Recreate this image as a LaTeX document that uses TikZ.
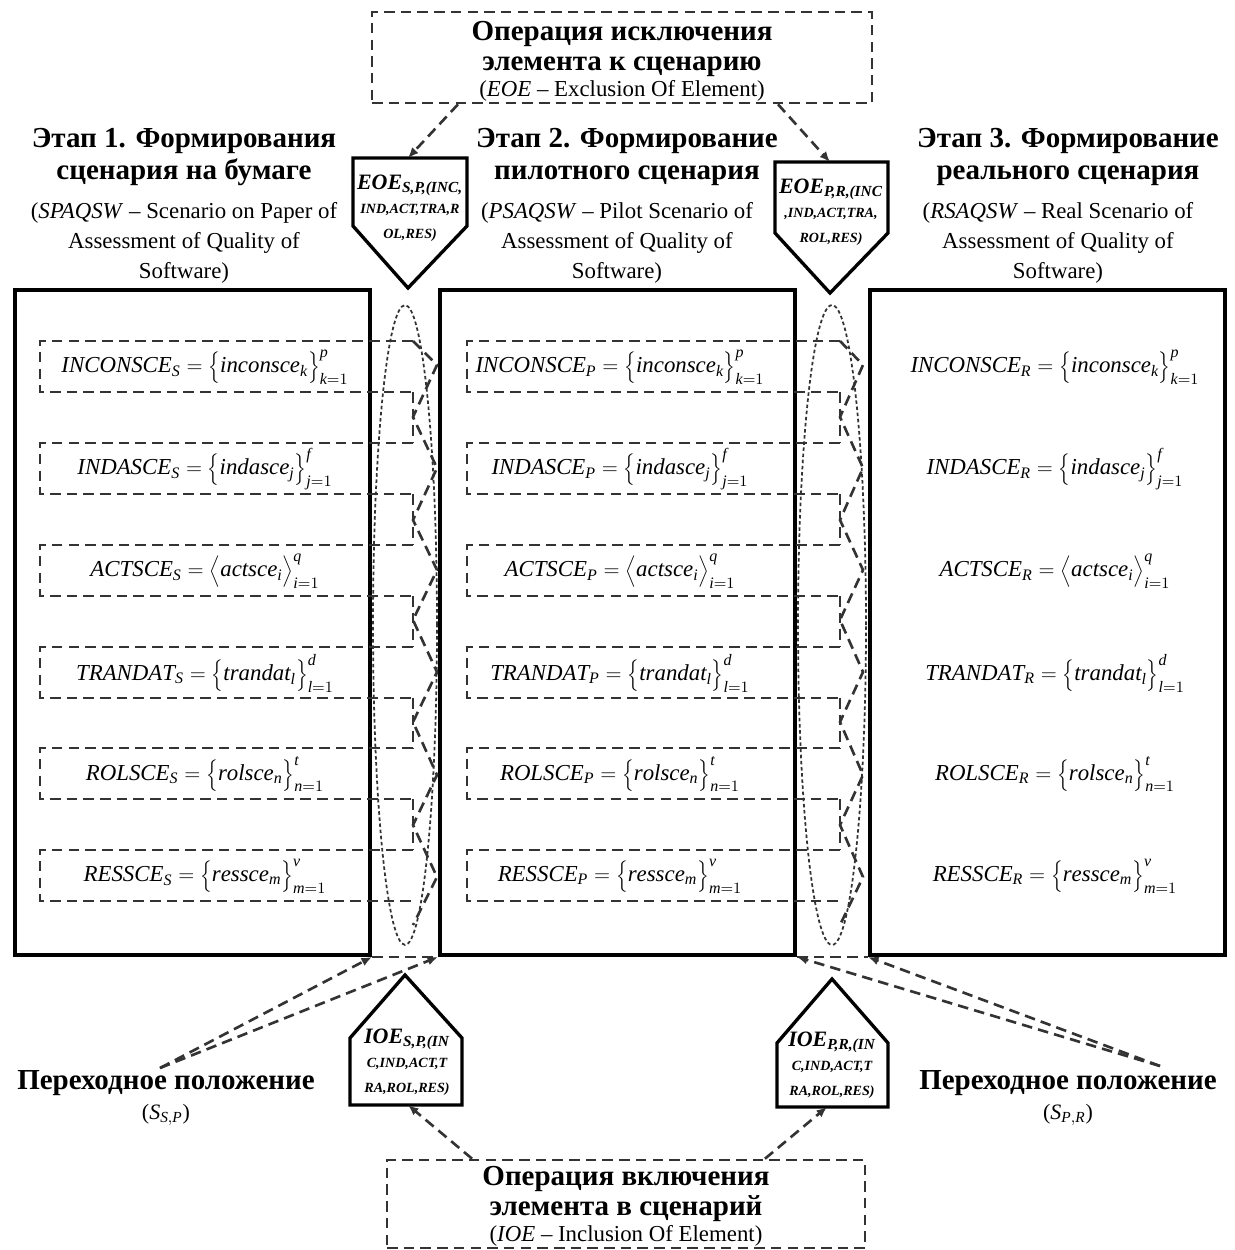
\documentclass[tikz,border=0pt]{standalone}
\usepackage{fontspec}
\setmainfont{Liberation Serif}
\usetikzlibrary{positioning,arrows.meta}
\newcommand{\scset}[5]{$\mathit{#1}_{\mathit{#2}}=\Big\{\mathit{#3}_{\mathit{#4}}\Big\}_{\mathit{#4}=1}^{\mathit{#5}}$}
\newcommand{\scseq}[5]{$\mathit{#1}_{\mathit{#2}}=\Big\langle\mathit{#3}_{\mathit{#4}}\Big\rangle_{\mathit{#4}=1}^{\mathit{#5}}$}

\begin{document}
\begin{tikzpicture}[
	x=0.02cm, y=-0.02cm,
	bigbox/.style={draw, line width=2.3pt, minimum width=7.1cm, minimum height=13.3cm, inner sep=0pt},
	stagehead/.style={align=center, font=\fontsize{16.5}{18.7}\selectfont\bfseries},
	stagesub/.style={align=center, font=\fontsize{13}{17}\selectfont},
	formula/.style={font=\fontsize{13}{15}\selectfont, inner sep=0pt},
	opbox/.style={draw=black!80, line width=1.5pt, dash pattern=on 6pt off 3.5pt, minimum width=10cm, minimum height=1.82cm, align=center, inner sep=0pt, font=\fontsize{16.5}{17}\selectfont\bfseries},
	dline/.style={draw=black!80, line width=1.5pt, dash pattern=on 6pt off 3.5pt},
	darrow/.style={dline, -{Latex[length=6pt, width=5pt]}},
	oval/.style={draw=black!80, line width=1pt, dash pattern=on 2pt off 1.5pt},
	house/.style={draw, line width=1.9pt, line join=miter},
	housetext/.style={align=center, font=\fontsize{8}{10}\selectfont\bfseries\itshape, inner sep=0pt},
	transit/.style={align=center, font=\fontsize{16.5}{17}\selectfont\bfseries}
]
\useasboundingbox (0,0) rectangle (1234,1250);
\node[bigbox] (st1) at (192.5,622.5) {};
\node[bigbox] (st2) at (617.5,622.5) {};
\node[bigbox] (st3) at (1047.5,622.5) {};
\node[stagehead] (head1) at (184,157) {Этап 1. Формирования\\сценария на бумаге};
\node[stagehead] (head2) at (627,157) {Этап 2. Формирование\\пилотного сценария};
\node[stagehead] (head3) at (1068,157) {Этап 3. Формирование\\реального сценария};
\node[stagesub] (sub1) at (184,243) {(\textit{SPAQSW} – Scenario on Paper of\\Assessment of Quality of\\Software)};
\node[stagesub] (sub2) at (617,243) {(\textit{PSAQSW} – Pilot Scenario of\\Assessment of Quality of\\Software)};
\node[stagesub] (sub3) at (1058,243) {(\textit{RSAQSW} – Real Scenario of\\Assessment of Quality of\\Software)};
\foreach \t in {341,443,545,647,748,850} {
	\draw[dline] (413,\t) -| (40,\t+51) -- (413,\t+51);
	\draw[dline] (840,\t) -| (467,\t+51) -- (840,\t+51);
}
\foreach \t in {392,494,596,698,799} {
	\draw[dline] (413,\t) -- (413,\t+51);
	\draw[dline] (840,\t) -- (840,\t+51);
}
\draw[dline] (413,341) -- (437,365) -- (413,417) -- (437,468) -- (413,520) -- (437,570) -- (413,620) -- (437,672) -- (413,722) -- (437,775) -- (413,825) -- (437,877) -- (413,925);
\draw[dline] (840,341) -- (863,365) -- (840,417) -- (863,468) -- (840,520) -- (863,570) -- (840,620) -- (863,672) -- (840,722) -- (863,775) -- (840,825) -- (863,877) -- (840,925);
\node[formula] (inc1) at (205,367) {\scset{INCONSCE}{S}{inconsce}{k}{p}};
\node[formula] (ind1) at (205,469) {\scset{INDASCE}{S}{indasce}{j}{f}};
\node[formula] (act1) at (205,571) {\scseq{ACTSCE}{S}{actsce}{i}{q}};
\node[formula] (tra1) at (205,673) {\scset{TRANDAT}{S}{trandat}{l}{d}};
\node[formula] (rol1) at (205,774) {\scset{ROLSCE}{S}{rolsce}{n}{t}};
\node[formula] (res1) at (205,876) {\scset{RESSCE}{S}{ressce}{m}{v}};
\node[formula] (inc2) at (620,367) {\scset{INCONSCE}{P}{inconsce}{k}{p}};
\node[formula] (ind2) at (620,469) {\scset{INDASCE}{P}{indasce}{j}{f}};
\node[formula] (act2) at (620,571) {\scseq{ACTSCE}{P}{actsce}{i}{q}};
\node[formula] (tra2) at (620,673) {\scset{TRANDAT}{P}{trandat}{l}{d}};
\node[formula] (rol2) at (620,774) {\scset{ROLSCE}{P}{rolsce}{n}{t}};
\node[formula] (res2) at (620,876) {\scset{RESSCE}{P}{ressce}{m}{v}};
\node[formula] (inc3) at (1055,367) {\scset{INCONSCE}{R}{inconsce}{k}{p}};
\node[formula] (ind3) at (1055,469) {\scset{INDASCE}{R}{indasce}{j}{f}};
\node[formula] (act3) at (1055,571) {\scseq{ACTSCE}{R}{actsce}{i}{q}};
\node[formula] (tra3) at (1055,673) {\scset{TRANDAT}{R}{trandat}{l}{d}};
\node[formula] (rol3) at (1055,774) {\scset{ROLSCE}{R}{rolsce}{n}{t}};
\node[formula] (res3) at (1055,876) {\scset{RESSCE}{R}{ressce}{m}{v}};
\draw[oval] (405,625) ellipse [x radius=0.64cm, y radius=6.4cm];
\draw[oval] (832,625) ellipse [x radius=0.68cm, y radius=6.4cm];
\draw[dline] (st1.south east) -- (st2.south west);
\draw[dline] (st2.south east) -- (st3.south west);
\node[opbox] (opexcl) at (622,57.5) {\rule{0pt}{15pt}Операция исключения\\элемента к сценарию\\[-2pt]{\normalfont\fontsize{13}{15}\selectfont(\textit{EOE} – Exclusion Of Element)}};
\node[opbox, minimum width=9.56cm, minimum height=1.76cm] (opincl) at (626,1204) {\rule{0pt}{14pt}Операция включения\\элемента в сценарий\\[-2pt]{\normalfont\fontsize{13}{15}\selectfont(\textit{IOE} – Inclusion Of Element)}};
\draw[house] (353,158) -- (467,158) -- (467,226) -- (408,288) -- (353,226) -- cycle;
\draw[house] (775,162) -- (888,162) -- (888,233) -- (830,293) -- (775,233) -- cycle;
\draw[house] (405,975) -- (462,1038) -- (462,1105) -- (350,1105) -- (350,1038) -- cycle;
\draw[house] (832,979) -- (888,1043) -- (888,1107) -- (777,1107) -- (777,1043) -- cycle;
\coordinate (eoeSPin) at (408,158);
\coordinate (eoePRin) at (830,162);
\coordinate (ioeSPin) at (408,1105);
\coordinate (ioePRin) at (827,1107);
\node[housetext] (eoeSP) at (410,208) {{\fontsize{12.5}{12}\selectfont EOE\textsubscript{S,P,(INC,}}\\[4pt]IND,ACT,TRA,R\\[4pt]OL,RES)};
\node[housetext] (eoePR) at (831,212) {{\fontsize{12.5}{12}\selectfont EOE\textsubscript{P,R,(INC}}\\[4pt],IND,ACT,TRA,\\[4pt]ROL,RES)};
\node[housetext] (ioeSP) at (407,1062) {{\fontsize{12.5}{12}\selectfont IOE\textsubscript{S,P,(IN}}\\[4pt]C,IND,ACT,T\\[4pt]RA,ROL,RES)};
\node[housetext] (ioePR) at (832,1065) {{\fontsize{12.5}{12}\selectfont IOE\textsubscript{P,R,(IN}}\\[4pt]C,IND,ACT,T\\[4pt]RA,ROL,RES)};
\draw[darrow] ([xshift=-3.28cm]opexcl.south) -- (eoeSPin);
\draw[darrow] ([xshift=3.12cm]opexcl.south) -- (eoePRin);
\draw[darrow] ([xshift=-3.08cm]opincl.north) -- (ioeSPin);
\draw[darrow] ([xshift=2.78cm]opincl.north) -- (ioePRin);
\node[transit] (trSP) at (166,1098) {Переходное положение\\{\normalfont\fontsize{12.5}{14}\selectfont($\mathit{S}_{\mathit{S,P}}$)}};
\node[transit] (trPR) at (1068,1098) {Переходное положение\\{\normalfont\fontsize{12.5}{14}\selectfont($\mathit{S}_{\mathit{P,R}}$)}};
\coordinate (trSPfoot) at (160,1068);
\coordinate (trPRfoot) at (1160,1066);
\draw[darrow] (trSPfoot) -- (st1.south east);
\draw[darrow] (trSPfoot) -- (st2.south west);
\draw[darrow] (trPRfoot) -- (st2.south east);
\draw[darrow] (trPRfoot) -- (st3.south west);
\end{tikzpicture}
\end{document}
